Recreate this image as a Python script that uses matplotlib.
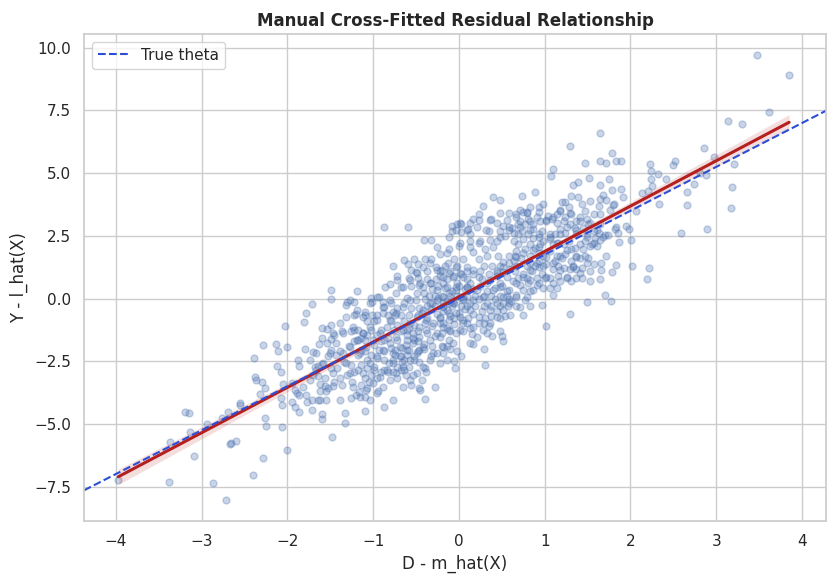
import matplotlib
matplotlib.use("Agg")
import matplotlib.pyplot as plt
import seaborn as sns
import numpy as np

# ---- data (D residual, Y residual) ----
pts_left = [
(-3.97,-7.23),(-3.38,-7.33),(-2.87,-7.37),(-2.72,-8.05),(-2.40,-7.03),(-2.28,-6.37),(-2.00,-6.05),(-3.09,-6.27),
(-3.37,-5.73),(-3.14,-5.33),(-3.19,-4.53),(-3.15,-4.57),(-2.94,-5.0),(-2.76,-4.76),(-2.69,-4.52),(-2.67,-5.79),
(-2.66,-5.77),(-2.60,-5.67),(-2.55,-4.17),(-2.55,-4.24),(-2.26,-4.76),(-2.25,-5.08),(-2.06,-5.12),(-2.32,-3.80),
(-2.38,-3.12),(-2.37,-3.26),(-2.30,-3.32),(-2.26,-3.57),(-2.39,-2.37),(-2.28,-1.85),(-2.13,-1.80),(-2.11,-2.09),
(-2.00,-1.93),(-2.03,-1.09),(-2.12,-2.68),(-2.07,-2.92),(-2.05,-3.41),(-2.07,-3.96),(-2.06,-4.25),(-1.94,-4.12),
(-1.91,-4.33),(-1.86,-4.54),(-1.95,-3.37),(-1.91,-3.64),(-1.86,-3.84),(-1.78,-3.84),(-1.77,-4.12),(-1.71,-4.05),
(-1.71,-4.44),(-1.64,-4.04),(-1.62,-4.04),(-1.55,-4.04),(-1.59,-4.60),(-1.59,-4.80),(-1.48,-5.51),(-1.88,-2.44),
(-1.86,-2.68),(-1.79,-2.01),(-1.81,-0.93),(-1.78,-0.57),(-1.71,-0.21),(-1.70,-2.12),(-1.74,-2.44),(-1.63,-1.81),
(-1.59,-1.17),(-1.54,-1.20),(-1.49,-1.04),(-1.59,-1.57),(-1.49,-1.60),(-1.49,0.36),(-1.49,0.0),(-1.68,-2.74),
(-1.64,-2.68),(-1.59,-2.62),(-1.70,-3.06),(-1.64,-3.10),(-1.56,-3.17),(-1.62,-3.41),(-1.56,-3.48),(-1.52,-3.57),
(-1.47,-3.50),(-1.62,-3.69),(-1.55,-3.70),(-1.53,-2.30),(-1.49,-2.04),(-1.49,-2.77),(-1.47,-2.97),
]
pts_midleft = [
(-0.87,2.87),(-0.59,2.87),(-0.77,1.28),(-0.64,1.52),(-0.59,1.37),(-0.52,1.57),(-0.48,1.37),(-0.56,1.14),(-0.50,1.05),
(-0.58,0.81),(-0.48,0.81),(-0.72,0.91),(-0.72,0.75),(-0.80,0.57),(-0.86,0.45),(-0.68,0.48),(-0.56,0.51),(-0.46,0.55),
(-1.19,0.31),(-1.30,-0.14),(-1.32,-0.25),(-1.22,-0.14),(-1.22,-0.65),(-1.20,-0.60),
(-1.10,-0.52),(-1.09,-0.65),(-1.03,0.01),(-1.01,-0.14),(-0.93,0.08),(-0.89,-0.12),(-1.01,-0.65),(-0.99,-0.91),(-1.07,-0.91),
(-0.87,-0.32),(-0.79,-0.18),(-0.83,-0.65),(-0.77,-0.52),(-0.72,-0.38),(-0.68,-0.65),(-0.64,-0.18),(-0.60,0.01),(-0.56,-0.38),
(-0.50,-0.05),(-0.46,-0.38),
(-0.79,-0.91),(-0.72,-1.05),(-0.64,-0.91),(-0.58,-1.18),(-0.52,-1.05),(-0.48,-1.31),(-0.60,-1.45),(-0.68,-1.31),(-0.54,-1.58),
(-0.48,-1.71),(-0.62,-1.84),(-0.66,-1.98),
(-1.45,-1.45),(-1.36,-1.31),(-1.26,-1.31),(-1.18,-1.25),(-1.12,-1.38),(-1.07,-1.45),(-1.14,-1.58),(-1.22,-1.71),(-1.28,-1.91),
(-1.38,-2.11),(-1.43,-2.24),
(-0.95,-1.45),(-0.91,-1.71),(-0.99,-1.84),(-0.83,-1.58),(-0.79,-1.98),(-0.87,-2.11),(-0.95,-2.38),(-1.03,-2.24),(-1.10,-2.11),
(-1.18,-2.24),
(-1.42,-2.78),(-1.34,-2.51),(-1.26,-2.64),(-1.22,-2.91),(-1.30,-3.04),(-1.38,-3.17),(-1.45,-3.31),(-1.36,-3.44),(-1.24,-3.31),
(-1.14,-2.64),(-1.07,-2.78),(-1.03,-3.04),(-1.10,-3.17),(-1.14,-3.44),(-1.07,-3.57),(-1.16,-3.71),(-1.20,-3.84),(-1.26,-3.97),
(-1.09,-3.91),(-1.05,-3.31),(-0.99,-2.71),(-0.95,-3.17),(-0.91,-2.91),(-0.83,-2.91),(-0.81,-2.58),(-0.72,-2.71),(-0.66,-2.51),
(-0.58,-2.71),(-0.54,-3.04),(-0.62,-3.04),(-0.68,-2.84),(-0.72,-3.17),(-0.77,-2.91),
(-0.94,-3.68),(-0.87,-4.33),(-0.77,-4.06),(-0.56,-3.44),(-0.46,-3.57),(-1.09,-4.48),(-1.33,-4.57),(-1.33,-4.97),(-1.38,-4.04),
(-0.68,-2.31),(-0.74,-2.24),(-0.60,-2.24),(-0.52,-2.31),(-0.48,-2.11),(-0.46,-2.51),
]
pts_midleft_dense = [
(-1.27,-0.06),(-1.19,-0.45),(-1.12,-0.72),(-1.04,-0.19),(-0.96,0.08),(-0.88,-0.32),(-0.80,-0.06),(-0.73,0.21),(-0.65,0.48),
(-0.57,0.74),(-0.49,1.01),(-0.42,1.27),(-0.34,1.41),(-0.26,1.14),(-0.18,0.87),(-0.11,1.01),(-0.03,1.27),(0.05,0.87),
(0.09,0.48),(0.01,0.08),(-0.07,-0.19),(-0.14,-0.45),(-0.22,-0.72),(-0.30,-0.99),(-0.38,-1.25),(-0.46,-1.52),(-0.53,-1.78),
(-0.61,-2.05),(-0.69,-2.31),(-0.77,-2.58),(-0.84,-2.85),(-0.92,-3.11),(-1.00,-3.38),(-1.08,-3.64),(-1.15,-3.91),(-1.23,-3.51),
(-1.27,-2.98),(-1.31,-2.58),(-1.35,-2.18),(-1.27,-1.92),(-1.19,-1.65),(-1.12,-1.38),(-1.04,-1.12),(-0.96,-0.85),(-0.88,-0.59),
(-0.80,-0.85),(-0.73,-0.59),(-0.65,-0.32),(-0.57,-0.06),(-0.49,0.21),(-0.42,0.48),(-0.34,0.61),(-0.26,0.34),(-0.18,0.08),
(-0.11,0.21),(-0.03,0.48),(0.05,-0.06),(-0.03,-0.59),(-0.11,-0.85),(-0.18,-1.12),(-0.26,-1.38),(-0.34,-1.65),(-0.42,-1.92),
(-0.49,-2.18),(-0.57,-2.45),(-0.65,-2.71),(-0.73,-2.98),(-0.80,-3.24),(-0.88,-3.51),(-0.96,-3.78),(-1.04,-4.04),(-1.12,-2.98),
(-1.04,-2.58),(-0.96,-2.31),(-0.88,-2.05),(-0.80,-1.78),(-0.73,-1.52),(-0.65,-1.25),(-0.57,-0.99),(-0.49,-0.72),(-0.42,-0.45),
(-0.34,-0.19),(-0.26,-0.06),(-0.18,-0.32),(-0.11,-0.19),(0.05,-0.85),(-0.03,-1.38),(-0.11,-1.65),(-0.18,-1.92),(-0.26,-2.18),
(-0.34,-2.45),(-0.42,-2.71),(-0.49,-2.98),(-0.57,-3.24),(-0.65,-3.51),(-1.35,-1.38),(-1.43,-1.78),(-1.50,-2.18),(-1.58,-2.58),
(-1.66,-2.85),(-1.74,-3.24),(-1.82,-3.51),(-1.89,-3.78),(-1.66,-2.18),(-1.54,-1.78),(-1.47,-1.38),(-1.39,-0.99),(-1.31,-0.72),
(-1.23,-1.12),(-1.15,-2.18),(-1.08,-1.92),(-1.00,-1.65),(-0.92,-1.38),(-0.84,-1.12),(-0.77,-2.18),(-0.69,-1.92),(-0.61,-1.65),
(-0.53,-1.38),(-0.46,-1.12),(-0.38,-0.85),
(-1.22,-1.25),(-1.03,-1.25),(-0.91,-1.25),(-0.76,-1.25),(-0.60,-1.25),
(-1.18,-1.65),(-1.09,-1.65),(-0.87,-1.65),(-0.72,-1.65),(-0.52,-1.65),
(-1.14,-2.04),(-0.93,-2.04),(-0.74,-2.04),(-0.58,-2.04),(-0.46,-2.04),
(-1.07,-2.44),(-0.87,-2.44),(-0.77,-2.44),(-0.64,-2.44),(-0.52,-2.44),
(-1.18,-2.84),(-0.99,-2.84),(-0.87,-2.84),(-0.64,-2.84),
(-0.95,-0.65),(-0.74,-0.65),(-0.58,-0.65),(-0.48,-0.65),
]
pts_center = [
(0.40,4.04),(0.48,3.95),(0.28,3.71),(0.23,3.37),(0.17,3.17),(0.37,3.17),
(-0.08,2.91),(-0.02,2.97),(0.02,2.97),(-0.08,2.71),(0.03,2.64),(0.11,2.77),(0.13,2.57),
(-0.41,2.33),(-0.33,2.33),(-0.26,2.04),(-0.12,1.97),(0.00,2.08),(0.13,2.31),(0.25,2.31),(0.35,2.71),(0.44,2.31),(0.52,2.91),
(0.48,2.71),(0.54,2.51),(0.58,2.84),
(-0.39,1.57),(-0.33,1.57),(-0.27,1.24),(-0.22,1.77),(-0.16,1.31),(-0.06,1.57),(-0.37,1.11),(-0.10,1.11),(-0.02,1.31),(0.05,1.57),
(0.17,1.84),(0.23,1.57),(0.33,1.71),(0.31,1.97),(0.40,2.04),(0.46,1.71),(0.52,1.44),(0.58,1.71),
(-0.45,0.64),(-0.37,0.77),(-0.27,0.77),(-0.22,0.91),(-0.14,0.77),(-0.06,0.91),(0.03,0.97),(0.09,0.77),(0.17,0.97),(0.27,0.77),
(0.35,0.97),(0.44,0.91),(0.52,1.04),(0.60,1.17),(0.39,1.31),(0.48,1.31),(0.29,1.31),
(-0.41,0.24),(-0.31,0.37),(-0.24,0.51),(-0.16,0.44),(-0.08,0.31),(0.00,0.51),(0.07,0.37),(0.17,0.37),(0.25,0.51),(0.33,0.31),
(0.42,0.44),(0.50,0.51),(0.56,0.31),
(-0.39,-0.03),(-0.31,-0.16),(-0.24,0.04),(-0.14,-0.09),(-0.06,-0.16),(0.05,-0.03),(0.13,-0.16),(0.23,-0.03),(0.33,-0.16),
(0.42,-0.03),(0.52,-0.16),(0.58,-0.03),
(-0.43,-0.56),(-0.33,-0.43),(-0.26,-0.63),(-0.18,-0.49),(-0.10,-0.69),(0.00,-0.56),(0.07,-0.43),(0.17,-0.63),(0.27,-0.49),
(0.37,-0.69),(0.44,-0.49),(0.54,-0.69),
(-0.39,-0.96),(-0.31,-1.09),(-0.22,-0.96),(-0.14,-1.16),(-0.06,-1.03),(0.05,-0.96),(0.13,-1.16),(0.23,-0.96),(0.35,-1.09),
(-0.37,-1.36),(-0.28,-1.49),(-0.20,-1.36),(-0.10,-1.29),(0.05,-1.29),(0.15,-1.43),(0.17,-1.83),(0.33,-1.36),(0.39,-1.49),
(0.48,-1.29),(0.50,-1.49),(0.52,-1.69),(0.29,-0.96),
(-0.41,-1.83),(-0.31,-1.89),(-0.20,-1.89),(-0.10,-2.03),(-0.02,-2.09),(0.02,-2.29),(-0.04,-2.76),(-0.18,-2.16),(-0.30,-2.16),
(-0.33,-2.29),(-0.41,-2.03),(0.29,-2.03),(0.31,-2.63),
(-0.40,-2.76),(-0.38,-2.92),(-0.28,-3.52),(-0.45,-3.63),(-0.39,-4.00),(-0.43,-3.23),
(-0.14,-2.43),(-0.22,-2.56),(-0.06,-2.49),
]
pts_center_dense = [
(-0.14,1.80),(-0.13,1.41),(-0.20,1.14),(-0.07,0.87),(0.01,1.01),(0.09,1.27),(0.17,1.14),(0.24,0.87),(-0.14,0.48),
(-0.03,0.34),(0.09,0.48),(0.21,0.34),(0.28,0.08),(0.17,-0.06),(0.05,0.08),(-0.07,-0.06),(-0.18,-0.19),(-0.11,-0.59),
(0.01,-0.72),(0.13,-0.45),(0.24,-0.72),(0.36,-0.45),(0.44,-0.19),(0.52,0.08),(0.59,0.34),(0.67,0.61),(0.75,0.87),
(0.83,1.14),(0.91,1.41),(0.56,0.87),(0.48,0.48),(0.40,0.34),(0.36,0.74),(0.44,1.01),(0.52,1.27),(0.59,1.41),(0.67,1.67),
(0.75,1.80),(0.87,1.94),(0.94,2.07),(1.02,1.67),(1.10,1.41),(0.94,1.27),(0.83,0.74),(0.75,0.34),(0.67,0.08),(0.59,-0.19),
(0.52,-0.45),(0.44,-0.72),(0.36,-0.99),(0.28,-1.25),(0.21,-1.52),(0.13,-1.78),(0.01,-1.25),(-0.11,-1.25),(-0.18,-0.99),
(-0.07,-1.78),(-0.14,-1.91),(-0.22,-1.52),(0.09,-0.99),(0.17,-1.12),(0.79,0.08),(0.71,-0.32),(0.87,0.34),(0.94,0.61),
(1.02,0.87),(1.10,0.61),(1.18,1.14),(1.26,0.87),(1.33,1.27),(1.41,1.01),(1.49,1.41),(1.37,1.67),(1.26,1.94),(1.14,2.20),
(1.06,2.47),(0.94,2.47),(0.83,2.73),(0.71,2.87),(0.59,2.73),(0.48,2.47),(0.36,2.34),(0.24,2.20),(0.13,2.07),(0.01,2.20),
(-0.11,2.47),(-0.03,2.73),(0.09,2.73),(0.21,2.87),(0.32,2.73),(0.44,3.00),(0.56,3.13),(0.67,3.27),(0.79,3.40),(0.91,3.27),
(1.02,3.13),(1.14,3.00),(1.26,2.87),(1.37,2.73),(1.49,2.47),(1.57,2.20),(1.61,2.73),(1.53,3.00),(1.41,3.27),(1.29,3.40),
(1.18,3.53),(1.10,3.27),(0.94,3.66),(0.83,3.66),(0.71,3.53),(0.59,3.40),(0.48,3.40),(0.36,3.13),(0.24,3.13),(0.13,3.00),
(0.01,3.00),
(-0.35,0.11),(-0.28,0.11),(-0.20,0.11),(-0.10,0.11),(-0.02,0.11),(0.09,0.11),(0.19,0.11),(0.29,0.11),(0.38,0.11),(0.48,0.11),(0.56,0.11),
(-0.37,-0.29),(-0.28,-0.29),(-0.18,-0.29),(-0.08,-0.29),(0.02,-0.29),(0.09,-0.29),(0.19,-0.29),(0.29,-0.29),(0.38,-0.29),(0.48,-0.29),(0.57,-0.29),
(-0.33,0.64),(-0.18,0.64),(-0.02,0.64),(0.13,0.64),(0.33,0.64),(0.48,0.64),
(-0.37,-0.76),(-0.22,-0.76),(-0.06,-0.76),(0.11,-0.76),(0.31,-0.76),(0.48,-0.76),
(-0.22,1.11),(0.09,1.11),(0.25,1.11),(0.44,1.11),
]
pts_midright = [
(1.29,6.08),(1.47,5.40),(1.10,5.17),(1.07,4.88),(1.52,4.81),(1.33,4.51),(1.39,4.64),(1.31,4.10),(1.39,4.04),(0.74,4.10),(0.89,4.24),
(1.20,3.84),(1.24,3.86),(1.28,3.64),(1.18,3.50),(1.43,3.77),(1.47,3.50),(1.53,3.90),(1.63,3.70),
(0.98,3.77),(0.93,3.44),(1.04,3.30),(1.08,3.17),(1.14,3.37),(1.24,3.24),(1.31,3.37),(1.37,3.10),(1.49,3.17),(1.57,3.37),
(0.67,3.37),(0.75,3.44),(0.79,3.44),(0.81,3.17),(0.69,2.97),(0.77,2.97),(0.86,2.97),(0.95,3.10),(0.62,2.83),
(0.64,2.63),(0.74,2.70),(0.86,2.77),(0.97,2.70),(1.06,2.57),(1.18,2.77),(1.30,2.97),(1.35,2.83),(1.45,2.83),(1.51,2.97),
(1.57,2.70),(1.63,2.63),(1.24,2.63),(1.12,2.57),
(0.64,2.30),(0.75,2.37),(0.87,2.43),(0.98,2.30),(1.06,2.37),(1.16,2.23),(1.28,2.30),(1.35,2.03),(1.47,2.30),(1.59,2.43),
(1.61,2.10),(1.45,1.97),(1.53,2.10),
(0.67,1.90),(0.77,1.97),(0.89,2.03),(0.95,1.83),(1.06,1.90),(1.14,1.70),(1.24,1.76),(1.31,1.97),(1.31,1.50),(1.41,1.63),
(1.51,1.63),(1.43,1.23),(1.57,1.36),
(0.64,1.50),(0.73,1.63),(0.83,1.43),(0.93,1.50),(1.02,1.36),(1.12,1.50),(1.20,1.63),(1.22,1.23),(1.10,1.16),(1.30,1.16),
(1.37,1.16),(1.53,1.10),
(0.65,1.10),(0.75,0.96),(0.85,1.10),(0.97,0.96),(1.06,0.83),(1.16,0.90),(1.18,0.70),(1.14,0.43),(1.10,0.16),(1.31,0.70),
(1.43,0.83),(1.53,0.72),
(0.63,0.70),(0.71,0.56),(0.81,0.63),(0.91,0.56),(0.98,0.43),(1.06,0.43),(0.83,0.30),(0.67,0.16),(0.77,-0.04),(0.61,-0.11),
(0.67,-0.31),(0.75,-0.64),(0.60,-0.64),(0.83,-0.31),(0.97,-0.27),(1.02,-1.11),(1.30,-0.60),(1.49,-0.13),
(1.77,-0.09),(1.70,0.15),
(0.69,2.17),(0.83,2.17),(0.95,2.17),(1.10,2.17),(1.22,2.17),(1.41,2.17),(1.55,2.17),
(0.65,1.70),(0.83,1.70),(0.98,1.70),(1.18,1.70),(1.37,1.70),(1.47,1.70),
(0.67,1.30),(0.79,1.30),(0.89,1.30),(0.98,1.30),(1.16,1.30),(1.33,1.30),
(0.69,0.83),(0.79,0.83),(0.91,0.83),(1.00,0.83),(1.26,0.83),(1.37,0.83),
(0.69,2.57),(0.81,2.57),(0.93,2.57),(1.18,2.57),(1.37,2.57),(1.49,2.57),
(0.71,3.10),(0.83,3.10),(1.02,3.10),(1.22,3.10),(1.41,3.10),
]
pts_right = [
(3.47,9.72),(3.85,8.92),(3.61,7.45),(3.14,7.09),(3.30,6.97),(2.86,6.01),(2.98,5.65),(3.21,5.37),(2.88,4.92),(2.81,4.99),
(3.18,4.45),(3.17,3.62),(2.89,2.79),(2.59,2.62),(2.66,4.26),(2.66,3.74),(2.74,4.57),(2.50,5.31),(2.52,5.47),(2.41,4.75),
(2.32,4.97),(2.23,5.37),(2.24,5.09),(2.24,4.77),(2.25,4.48),(2.21,4.27),(2.14,4.19),(2.33,3.78),(2.07,3.51),(1.95,2.89),
(1.98,2.79),(2.01,2.34),(2.02,1.30),(2.22,1.22),(2.19,0.78),(1.87,2.26),(1.83,1.34),(1.78,1.04),(1.72,1.70),(1.66,1.42),
(1.66,1.14),(1.64,0.80),(1.78,5.81),(1.83,5.47),(1.89,5.47),(1.72,5.39),(1.64,5.49),(1.64,6.62),(1.75,4.77),(1.78,4.31),
(1.89,4.38),(1.91,4.06),(1.68,4.12),(1.64,3.99),(1.72,3.92),(1.80,3.72),(1.81,3.79),(1.76,3.52),(1.64,4.52),(1.82,2.79),
(1.83,2.86),(1.86,2.62),(1.68,2.46),(1.70,2.53),(1.74,2.53),(1.64,2.33),(1.64,3.39),(1.64,2.99),
]
theta_true = 1.75

pts = (pts_left + pts_midleft + pts_midleft_dense + pts_center + pts_center_dense
       + pts_midright + pts_right)
d_res = np.array([p[0] for p in pts])
y_res = np.array([p[1] for p in pts])

sns.set_theme(style="whitegrid")
fig = plt.figure(figsize=(8.34, 5.84), dpi=100)
ax = fig.add_axes([84/834, 1-521/584, (826-84)/834, (521-34)/584])

sns.regplot(x=d_res, y=y_res, ax=ax, seed=0,
            scatter_kws=dict(alpha=0.3, s=25),
            line_kws=dict(color="#b51f1f", linewidth=2.2))
ax.axline((0, 0), slope=theta_true, color="#2a4fd6", linestyle="--",
          linewidth=1.5, label="True theta")

ax.set_xlim(-4.37, 4.28)
ax.set_ylim(-8.87, 10.55)
ax.set_xlabel("D - m_hat(X)")
ax.set_ylabel("Y - l_hat(X)")
ax.set_title("Manual Cross-Fitted Residual Relationship", fontweight="bold")
ax.legend(loc="upper left")

fig.savefig("out.png", dpi=100)
